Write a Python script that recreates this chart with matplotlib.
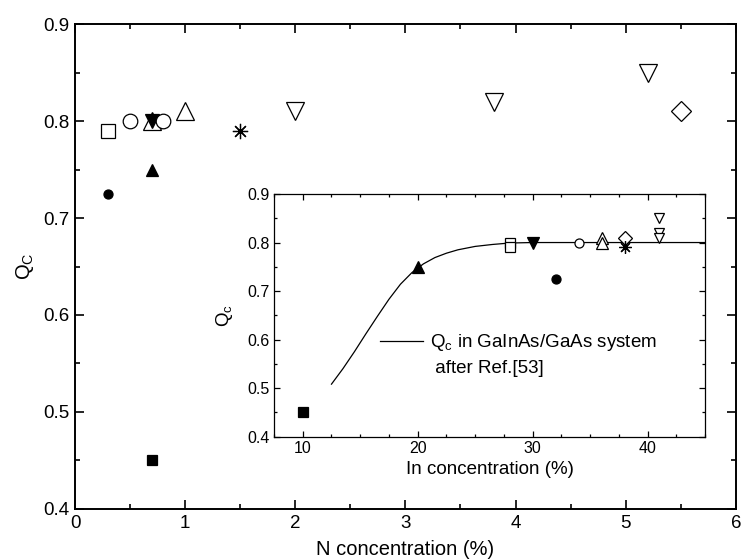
import numpy as np
import matplotlib
matplotlib.use("Agg")
import matplotlib.pyplot as plt
from matplotlib.ticker import MultipleLocator, FormatStrFormatter
from matplotlib.lines import Line2D

plt.rcParams['font.family'] = ['Liberation Sans', 'DejaVu Sans']
plt.rcParams['mathtext.fontset'] = 'custom'
plt.rcParams['mathtext.rm'] = 'Liberation Sans'
plt.rcParams['mathtext.it'] = 'Liberation Sans:italic'


## DATA
# Q_c vs N concentration (main panel)
n_conc = [0.3, 0.3, 0.5, 0.7, 0.7, 0.7, 0.7, 0.8, 1.0, 1.5, 2.0, 3.8, 5.2, 5.5]
n_qc = [0.79, 0.725, 0.80, 0.80, 0.80, 0.75, 0.45, 0.80, 0.81, 0.79, 0.81, 0.82, 0.85, 0.81]
n_sym = ['sq', 'fc', 'oc', 'ut', 'fdt', 'fut', 'fsq', 'oc', 'ut', 'ast', 'dt', 'dt', 'dt', 'dia']

# same samples vs In concentration (inset)
in_conc = [10, 20, 28, 28, 30, 32, 34, 36, 36, 38, 38, 41, 41, 41]
in_qc = [0.45, 0.75, 0.80, 0.79, 0.80, 0.725, 0.80, 0.81, 0.80, 0.81, 0.79, 0.85, 0.82, 0.81]
in_sym = ['fsq', 'fut', 'sq', 'sq', 'fdt', 'fc', 'oc', 'ut', 'ut', 'dia', 'ast', 'dt', 'dt', 'dt']

# Q_c in GaInAs/GaAs, Ref.[53]
ref_in = [12.5, 13.5, 14.5, 15.5, 16.5, 17.5, 18.5, 19.5, 20.5, 21.5, 22.5, 23.5, 25, 26.5, 28, 30, 45]
ref_qc = [0.508, 0.540, 0.575, 0.612, 0.648, 0.683, 0.714, 0.738, 0.756, 0.769, 0.778, 0.785,
          0.792, 0.796, 0.799, 0.800, 0.800]

# marker style per symbol: (marker, filled, size main, size inset)
styles = {
    'sq':  ('s', False, 10, 6.5),
    'fsq': ('s', True, 7, 7),
    'oc':  ('o', False, 10.5, 6.5),
    'fc':  ('o', True, 6.5, 6.5),
    'ut':  ('^', False, 13.5, 8),
    'fut': ('^', True, 8.5, 9),
    'dt':  ('v', False, 13.5, 7.5),
    'fdt': ('v', True, 9.5, 9),
    'ast': ((8, 2, 0), False, 11, 9),
    'dia': ('D', False, 10, 7),
}


def draw_points(ax, xs, ys, syms, inset=False):
    for x, y, s in zip(xs, ys, syms):
        m, filled, ms_main, ms_in = styles[s]
        ms = ms_in if inset else ms_main
        ax.plot([x], [y], linestyle='none', marker=m, markersize=ms,
                markerfacecolor='black' if filled else 'white',
                markeredgecolor='black', markeredgewidth=0.9, zorder=3)


fig = plt.figure(figsize=(7.45, 5.6), dpi=100)

# main panel
ax = fig.add_axes([0.1007, 0.0911, 0.887, 0.866])
draw_points(ax, n_conc, n_qc, n_sym)
ax.set_xlim(0, 6)
ax.set_ylim(0.4, 0.9)
ax.xaxis.set_major_locator(MultipleLocator(1))
ax.xaxis.set_minor_locator(MultipleLocator(0.5))
ax.yaxis.set_major_locator(MultipleLocator(0.1))
ax.yaxis.set_minor_locator(MultipleLocator(0.05))
ax.yaxis.set_major_formatter(FormatStrFormatter('%.1f'))
ax.tick_params(which='both', direction='in', top=True, right=True, width=1.2)
ax.tick_params(which='major', length=6.5, labelsize=13.5, pad=4)
ax.tick_params(which='minor', length=3.5)
for sp in ax.spines.values():
    sp.set_linewidth(1.4)
ax.set_xlabel('N concentration (%)', fontsize=14.5, labelpad=6)
ax.set_ylabel(r'Q$_{\rm C}$', fontsize=14.5, labelpad=5)

# inset
axi = fig.add_axes([0.3678, 0.2205, 0.5785, 0.433])
axi.plot(ref_in, ref_qc, color='black', linewidth=0.9, zorder=2)
draw_points(axi, in_conc, in_qc, in_sym, inset=True)
axi.set_xlim(7.5, 45)
axi.set_ylim(0.4, 0.9)
axi.xaxis.set_major_locator(MultipleLocator(10))
axi.xaxis.set_minor_locator(MultipleLocator(2.5))
axi.yaxis.set_major_locator(MultipleLocator(0.1))
axi.yaxis.set_minor_locator(MultipleLocator(0.05))
axi.yaxis.set_major_formatter(FormatStrFormatter('%.1f'))
axi.tick_params(which='both', direction='in', top=True, right=True, width=0.9)
axi.tick_params(which='major', length=4, labelsize=11.5, pad=3)
axi.tick_params(which='minor', length=2.5)
for sp in axi.spines.values():
    sp.set_linewidth(0.9)
axi.set_xlabel('In concentration (%)', fontsize=13.5, labelpad=4)
axi.set_ylabel(r'Q$_{\rm c}$', fontsize=13.5, labelpad=9)

handles = [Line2D([], [], color='black', linewidth=0.9),
           Line2D([], [], linestyle='none')]
labels = [r'Q$_{\rm c}$ in GaInAs/GaAs system', ' after Ref.[53]']
axi.legend(handles, labels, loc='upper left', bbox_to_anchor=(0.246, 0.43),
           frameon=False, fontsize=13.5, handlelength=2.3, handletextpad=0.35,
           labelspacing=0.35, borderpad=0, borderaxespad=0)

fig.savefig('out.png', dpi=100)
